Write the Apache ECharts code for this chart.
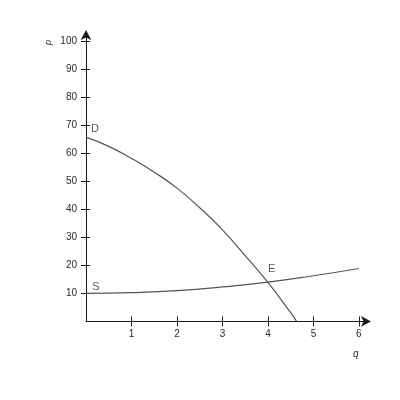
<!DOCTYPE html>
<html>
<head>
<meta charset="utf-8">
<script src="https://cdn.jsdelivr.net/npm/echarts@6/dist/echarts.min.js"></script>
<style>
html,body{margin:0;padding:0;background:#fff;}
#chart{width:400px;height:400px;}
</style>
</head>
<body>
<div id="chart"></div>
<script>
//供需曲线

// demand curve D
var demandQ = [0, 0.5, 1, 1.5, 2, 2.5, 3, 3.5, 4, 4.5, 4.63];
var demandP = [65.8, 62.5, 58.2, 53.3, 47.6, 40.6, 32.7, 23.5, 13.9, 3.1, 0];

// supply curve S
var supplyQ = [0, 1, 2, 3, 4, 5, 6];
var supplyP = [10, 10.3, 11, 12.3, 14, 16.3, 18.9];

// tick labels
var qTicks = [1, 2, 3, 4, 5, 6];
var pTicks = [10, 20, 30, 40, 50, 60, 70, 80, 90, 100];

// curve labels
var labelText = ['D', 'S', 'E'];
var labelQ = [0.2, 0.22, 4.08];
var labelP = [68.6, 12.4, 18.6];

var COLOR = {
	AXIS:'#1a1a1a',
	CURVE:'#555',
	TEXT:'#2a2a2a'
};

function pairs(xs, ys){
	var out = [];
	for (var i = 0; i < xs.length; i++){
		out.push([xs[i], ys[i]]);
	}
	return out;
}

function labelData(){
	var out = [];
	for (var i = 0; i < labelText.length; i++){
		out.push({value:[labelQ[i], labelP[i]], name:labelText[i]});
	}
	return out;
}

function renderChart(){
	var myChart = echarts.init(document.getElementById('chart'));
	var font = 'Liberation Sans';
	myChart.setOption({
		animation:false,
		grid:{left:86, right:32, top:33, bottom:78.6},
		xAxis:[
			{
				type:'value', min:0, max:6.2,
				splitLine:{show:false},
				axisLine:{show:true, symbol:['none','arrow'], symbolSize:[8,10], symbolOffset:[0,3], lineStyle:{color:COLOR.AXIS, width:1}},
				axisTick:{show:true, length:5, customValues:qTicks, lineStyle:{color:COLOR.AXIS}},
				axisLabel:{color:COLOR.TEXT, fontSize:10, fontFamily:font, margin:8, customValues:qTicks}
			},
			{
				type:'value', min:0, max:6.2, position:'bottom',
				splitLine:{show:false},
				axisLine:{show:false},
				axisTick:{show:true, inside:true, length:5, customValues:qTicks, lineStyle:{color:COLOR.AXIS}},
				axisLabel:{show:false}
			}
		],
		yAxis:[
			{
				type:'value', min:0, max:103,
				splitLine:{show:false},
				axisLine:{show:true, symbol:['none','arrow'], symbolSize:[8,10], symbolOffset:[0,3], lineStyle:{color:COLOR.AXIS, width:1}},
				axisTick:{show:true, length:5, customValues:pTicks, lineStyle:{color:COLOR.AXIS}},
				axisLabel:{color:COLOR.TEXT, fontSize:10, fontFamily:font, margin:9, customValues:pTicks}
			},
			{
				type:'value', min:0, max:103, position:'left',
				splitLine:{show:false},
				axisLine:{show:false},
				axisTick:{show:true, inside:true, length:4, customValues:pTicks, lineStyle:{color:COLOR.AXIS}},
				axisLabel:{show:false}
			}
		],
		graphic:[
			{type:'text', left:44, top:40, rotation:Math.PI/2,
				style:{text:'p', font:'italic 9px ' + font, fill:COLOR.TEXT}},
			{type:'text', left:353, top:349,
				style:{text:'q', font:'italic 10px ' + font, fill:COLOR.TEXT}}
		],
		series:[
			{
				name:'D', type:'line', smooth:0.5, symbol:'none',
				lineStyle:{color:COLOR.CURVE, width:1.2},
				data:pairs(demandQ, demandP)
			},
			{
				name:'S', type:'line', smooth:0.5, symbol:'none',
				lineStyle:{color:COLOR.CURVE, width:1.2},
				data:pairs(supplyQ, supplyP)
			},
			{
				name:'labels', type:'scatter', symbolSize:0,
				label:{show:true, position:'inside', formatter:'{b}', color:COLOR.TEXT, fontSize:11, fontFamily:font},
				data:labelData()
			}
		]
	});
}

renderChart();
</script>
</body>
</html>
